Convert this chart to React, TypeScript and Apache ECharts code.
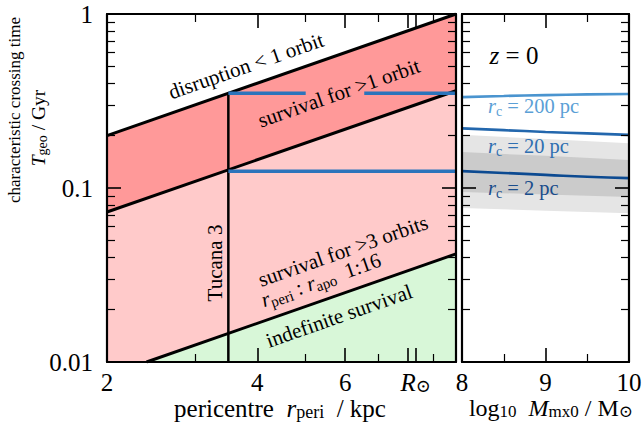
import React, { useEffect, useRef } from 'react';
import * as echarts from 'echarts';

const FONT = '"Liberation Serif", "DejaVu Serif", serif';

// ---------- left panel: pericentre (kpc) vs crossing time (Gyr) ----------
const boundaryR = [2, 10];
const disruptionT = [0.2, 1.0]; // upper edge: disruption < 1 orbit
const oneOrbitT = [0.0728, 0.362]; // lower edge of "survival for >1 orbit"
const indefR = [2.4, 10];
const indefT = [0.01, 0.0418]; // upper edge of "indefinite survival"
const tucanaR = 3.5;
const tucanaT = [0.01, 0.35];
const blueSegR = [
  [3.5, 5.0],
  [6.55, 10],
  [3.5, 10],
];
const blueSegT = [0.35, 0.35, 0.125];

const xMajorTicks = [2, 4, 6, 8, 8.3];
const xMinorTicks = [3, 5, 7, 9];
const xLabelVals = [2, 4, 6, 8.3];
const xLabelText = ['2', '4', '6', '{i|R}{s|⊙}'];
const yMajor = [0.01, 0.1, 1];
const yMinor = [0.02, 0.03, 0.04, 0.05, 0.06, 0.07, 0.08, 0.09, 0.2, 0.3, 0.4, 0.5, 0.6, 0.7, 0.8, 0.9];
const yLabelText = ['0.01', '0.1', '1'];

// ---------- right panel: log10 Mmx0 vs crossing time ----------
const massX = [8, 8.5, 9, 9.5, 10];
const rc200 = [0.333, 0.338, 0.342, 0.345, 0.347];
const rc20 = [0.22, 0.215, 0.21, 0.206, 0.202];
const rc2 = [0.125, 0.122, 0.119, 0.116, 0.114];
const bandX = [8, 9, 10];
const lightTop = [0.202, 0.191, 0.181];
const lightBot = [0.0767, 0.074, 0.0717];
const darkTop = [0.161, 0.153, 0.145];
const darkBot = [0.0948, 0.0918, 0.0888];
const massMajor = [8, 9, 10];
const massMinor = [8.5, 9.5];
const rcLabels = ['200', '20', '2'];

const lg = Math.log10;

const rich = (F: number, color = '#000', lh = 1.2) => ({
  n: { fontFamily: FONT, fontSize: F, lineHeight: F * lh, color },
  i: { fontFamily: FONT, fontSize: F, fontStyle: 'italic', lineHeight: F * lh, color },
  s: {
    fontFamily: FONT,
    fontSize: Math.round(F * 0.7),
    lineHeight: Math.round(F * (lh - 0.4)),
    verticalAlign: 'bottom',
    color,
  },
});

function axis(
  gridIndex: number,
  position: string,
  min: number,
  max: number,
  ticks: number[],
  len: number,
  showLine: boolean,
  label?: any
) {
  return {
    type: 'value',
    gridIndex,
    position,
    min,
    max,
    z: 10,
    splitLine: { show: false },
    axisLine: { show: showLine, onZero: false, lineStyle: { color: '#000', width: 2.2 } },
    axisTick: {
      show: true,
      inside: true,
      length: len,
      customValues: ticks,
      lineStyle: { color: '#000', width: len > 10 ? 1.6 : 1.2 },
    },
    axisLabel: label ? label : { show: false },
  };
}

const near = (arr: number[], v: number) => arr.findIndex((t) => Math.abs(t - v) < 1e-6);

const xL = [lg(boundaryR[0]), lg(boundaryR[1])];
const xMajL = xMajorTicks.map(lg);
const xMinL = xMinorTicks.map(lg);
const xLabL = xLabelVals.map(lg);
const yMajL = yMajor.map(lg);
const yMinL = yMinor.map(lg);

const xLabelLeft = {
  show: true,
  customValues: xLabL,
  margin: 8,
  fontFamily: FONT,
  fontSize: 25,
  lineHeight: 25,
  color: '#000',
  formatter: (v: number) => xLabelText[near(xLabL, v)] ?? '',
  rich: rich(25, '#000', 1.0),
};
const yLabel = {
  show: true,
  customValues: yMajL,
  margin: 14,
  fontFamily: FONT,
  fontSize: 25,
  color: '#000',
  formatter: (v: number) => yLabelText[near(yMajL, v)] ?? '',
};
const xLabelRight = {
  show: true,
  customValues: massMajor,
  margin: 8,
  fontFamily: FONT,
  fontSize: 25,
  lineHeight: 25,
  color: '#000',
  formatter: (v: number) => String(Math.round(v)),
};

const xAxes = [
  axis(0, 'bottom', xL[0], xL[1], xMajL, 14, true, xLabelLeft),
  axis(0, 'bottom', xL[0], xL[1], xMinL, 8, false),
  axis(0, 'top', xL[0], xL[1], xMajL, 14, true),
  axis(0, 'top', xL[0], xL[1], xMinL, 8, false),
  axis(1, 'bottom', 8, 10, massMajor, 14, true, xLabelRight),
  axis(1, 'bottom', 8, 10, massMinor, 8, false),
  axis(1, 'top', 8, 10, massMajor, 14, true),
  axis(1, 'top', 8, 10, massMinor, 8, false),
];
const yAxes = [
  axis(0, 'left', -2, 0, yMajL, 14, true, yLabel),
  axis(0, 'left', -2, 0, yMinL, 8, false),
  axis(0, 'right', -2, 0, yMajL, 14, true),
  axis(0, 'right', -2, 0, yMinL, 8, false),
  axis(1, 'left', -2, 0, yMajL, 14, true),
  axis(1, 'left', -2, 0, yMinL, 8, false),
  axis(1, 'right', -2, 0, yMajL, 14, true),
  axis(1, 'right', -2, 0, yMinL, 8, false),
];

const pts = (xs: number[], ys: number[]) => xs.map((x, i) => [lg(x), lg(ys[i])]);
const ptsM = (xs: number[], ys: number[]) => xs.map((x, i) => [x, lg(ys[i])]);

const base = (xi: number, yi: number) => ({
  type: 'line',
  xAxisIndex: xi,
  yAxisIndex: yi,
  symbol: 'none',
  silent: true,
  animation: false,
});

// band edges in the right panel, filled down to the axis start in layers
const bandLayer = (name: string, ys: number[], fill: string) => ({
  ...base(4, 4),
  name,
  data: ptsM(bandX, ys),
  lineStyle: { opacity: 0, width: 0 },
  areaStyle: { color: fill, opacity: 1, origin: 'start' },
});

const series: any[] = [
  {
    ...base(0, 0),
    name: 'disruption boundary',
    data: pts(boundaryR, disruptionT),
    lineStyle: { color: '#000', width: 3 },
    areaStyle: { color: '#ff9999', opacity: 1, origin: 'start' },
  },
  {
    ...base(0, 0),
    name: 'one orbit boundary',
    data: pts(boundaryR, oneOrbitT),
    lineStyle: { color: '#000', width: 3 },
    areaStyle: { color: '#ffcaca', opacity: 1, origin: 'start' },
  },
  {
    ...base(0, 0),
    name: 'indefinite boundary',
    data: pts(indefR, indefT),
    lineStyle: { color: '#000', width: 3 },
    areaStyle: { color: '#d8f7d8', opacity: 1, origin: 'start' },
  },
  {
    ...base(0, 0),
    name: 'Tucana 3',
    data: tucanaT.map((t) => [lg(tucanaR), lg(t)]),
    lineStyle: { color: '#000', width: 2.5 },
  },
  ...blueSegR.map((seg, i) => ({
    ...base(0, 0),
    name: 'Tuc3 T ' + i,
    data: seg.map((r) => [lg(r), lg(blueSegT[i])]),
    lineStyle: { color: '#2c74bb', width: 3.5 },
  })),
  bandLayer('light top', lightTop, '#e5e5e5'),
  bandLayer('dark top', darkTop, '#cbcbcb'),
  bandLayer('dark bottom', darkBot, '#e5e5e5'),
  bandLayer('light bottom', lightBot, '#ffffff'),
  {
    ...base(4, 4),
    name: 'rc 200',
    smooth: true,
    data: ptsM(massX, rc200),
    lineStyle: { color: '#4a94cf', width: 2.6 },
  },
  {
    ...base(4, 4),
    name: 'rc 20',
    smooth: true,
    data: ptsM(massX, rc20),
    lineStyle: { color: '#2367ad', width: 2.6 },
  },
  {
    ...base(4, 4),
    name: 'rc 2',
    smooth: true,
    data: ptsM(massX, rc2),
    lineStyle: { color: '#0c4a91', width: 2.6 },
  },
];

const ANG = Math.atan(122 / 349);
const textEl = (
  x: number,
  y: number,
  text: string,
  F = 21,
  rot = ANG,
  color = '#000',
  align = 'center',
  lh = 1.2
) => ({
  type: 'text',
  x,
  y,
  rotation: rot,
  silent: true,
  z: 50,
  style: {
    text,
    fontFamily: FONT,
    fontSize: F,
    fill: color,
    align,
    verticalAlign: 'middle',
    rich: rich(F, color, lh),
  },
});
const rcColors = ['#5b9fd6', '#2f6fb1', '#1a4d8c'];
const rcY = [106, 146, 188];

const graphic: any[] = [
  textEl(14.5, 110, 'characteristic crossing time', 17, Math.PI / 2),
  textEl(38, 128, '{i|T}{s|geo}{n| / Gyr}', 19.5, Math.PI / 2),
  textEl(280, 408, '{n|pericentre  }{i|r}{s|peri}{n|  / kpc}', 25, 0, '#000', 'center', 1.0),
  textEl(551, 408, '{n|log}{s|10}{n|  }{i|M}{s|mx0}{n| / M}{s|⊙}', 24, 0, '#000', 'center', 1.0),
  textEl(246, 66, 'disruption < 1 orbit'),
  textEl(339, 93, 'survival for >1 orbit'),
  textEl(343, 251, 'survival for >3 orbits'),
  textEl(321, 280, '{i|r}{s|peri}{n| : }{i|r}{s|apo}{n|  1:16}'),
  textEl(339, 316, 'indefinite survival'),
  textEl(215, 263, 'Tucana 3', 21, Math.PI / 2),
  textEl(514, 55, '{i|z}{n| = 0}', 25, 0),
  ...rcLabels.map((lab, i) =>
    textEl(488, rcY[i], `{i|r}{s|c}{n| = ${lab} pc}`, 20.5, 0, rcColors[i], 'left')
  ),
];

const option: any = {
  animation: false,
  backgroundColor: '#fff',
  grid: [
    { left: 107, top: 14, width: 349, height: 348, outerBoundsMode: 'none', containLabel: false },
    { left: 462, top: 14, width: 167, height: 348, outerBoundsMode: 'none', containLabel: false },
  ],
  xAxis: xAxes,
  yAxis: yAxes,
  series,
  graphic,
};

export default function App() {
  const ref = useRef<HTMLDivElement>(null);
  useEffect(() => {
    const chart = echarts.init(ref.current!, null, { renderer: 'svg' });
    chart.setOption(option);
    return () => chart.dispose();
  }, []);
  return (
    <div
      ref={ref}
      style={{ position: 'absolute', left: 0, top: 0, width: 642, height: 422 }}
    />
  );
}
